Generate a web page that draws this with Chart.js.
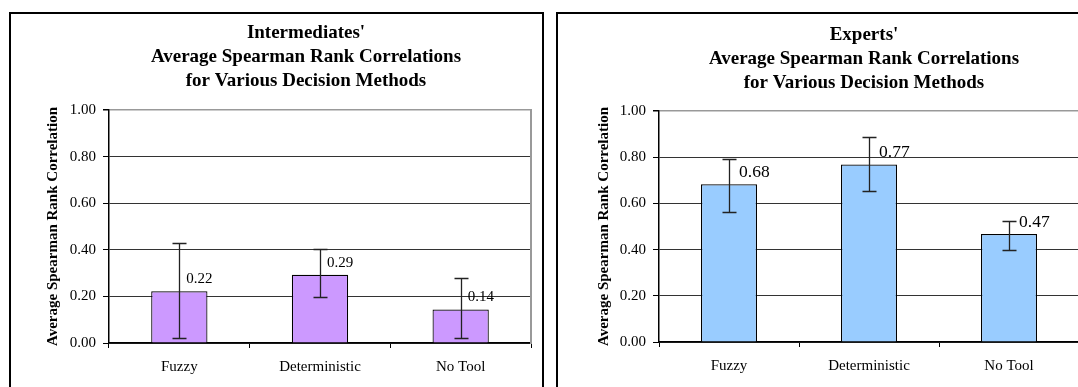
<!DOCTYPE html>
<html>
<head>
<meta charset="utf-8">
<script src="https://cdn.jsdelivr.net/npm/chart.js@4.4.1/dist/chart.umd.min.js"></script>
<style>
  html, body { margin: 0; padding: 0; background: #fff; width: 1078px; height: 387px; overflow: hidden; position: relative; }
  .frame { position: absolute; box-sizing: border-box; border: 2px solid #000; background: transparent; }
  canvas { position: absolute; }
</style>
</head>
<body>
<div class="frame" style="left:9px; top:12px; width:535px; height:420px;"></div>
<div class="frame" style="left:556px; top:12px; width:600px; height:420px;"></div>
<canvas id="c1" width="590" height="373" style="left:11px; top:14px; width:590px; height:373px;"></canvas>
<canvas id="c2" width="612" height="373" style="left:558px; top:14px; width:612px; height:373px;"></canvas>
<script>
// ---- data ----
const categories = ['Fuzzy', 'Deterministic', 'No Tool'];
const intermediateMeans = [0.222, 0.293, 0.144];
const intermediateErrLow = [0.020, 0.199, 0.020];
const intermediateErrHigh = [0.430, 0.405, 0.280];
const expertMeans = [0.683, 0.768, 0.467];
const expertErrLow = [0.561, 0.654, 0.400];
const expertErrHigh = [0.794, 0.887, 0.524];
const yTickValues = [0, 0.2, 0.4, 0.6, 0.8, 1.0];
const intermediateTitle = ["Intermediates'", 'Average Spearman Rank Correlations', 'for Various Decision Methods'];
const expertTitle = ["Experts'", 'Average Spearman Rank Correlations', 'for Various Decision Methods'];
const yAxisTitle = 'Average Spearman Rank Correlation';

const SERIF = "'Liberation Serif', 'Times New Roman', serif";

const errorBarPlugin = {
  id: 'errorBars',
  afterDatasetsDraw(chart, args, opts) {
    const meta = chart.getDatasetMeta(0);
    const ys = chart.scales.y;
    const values = chart.data.datasets[0].data;
    const ctx = chart.ctx;
    ctx.save();
    ctx.strokeStyle = opts.color;
    ctx.lineWidth = opts.width;
    meta.data.forEach((bar, i) => {
      const x = Math.round(bar.x) + 0.5;
      const yl = Math.round(ys.getPixelForValue(opts.low[i])) + 0.5;
      const yh = Math.round(ys.getPixelForValue(opts.high[i])) + 0.5;
      ctx.beginPath();
      ctx.moveTo(x, yl); ctx.lineTo(x, yh);
      ctx.moveTo(x - opts.cap, yh); ctx.lineTo(x + opts.cap, yh);
      ctx.moveTo(x - opts.cap, yl); ctx.lineTo(x + opts.cap, yl);
      ctx.stroke();
    });
    ctx.fillStyle = '#000';
    ctx.font = opts.labelSize + 'px ' + SERIF;
    ctx.textAlign = 'left';
    ctx.textBaseline = 'middle';
    meta.data.forEach((bar, i) => {
      ctx.fillText(values[i].toFixed(2), bar.x + opts.dx, bar.y + opts.dy);
    });
    ctx.restore();
  }
};

function makeChart(id, title, means, low, high, color, geo) {
  return new Chart(document.getElementById(id), {
    type: 'bar',
    data: {
      labels: categories,
      datasets: [{
        data: means,
        backgroundColor: color,
        borderColor: '#000',
        borderWidth: 1.2,
        barPercentage: 1,
        categoryPercentage: 0.4
      }]
    },
    options: {
      responsive: false,
      animation: false,
      layout: { padding: 0 },
      plugins: {
        legend: { display: false },
        tooltip: { enabled: false },
        title: {
          display: true,
          text: title,
          color: '#000',
          font: { family: SERIF, size: 19, weight: 'bold', lineHeight: 24 / 19 },
          padding: { top: geo.titleTop, bottom: geo.titleBottom }
        },
        errorBars: {
          low: low, high: high, color: '#222', width: 1.3, cap: 7,
          labelSize: geo.labelSize, dx: geo.labelDx, dy: -12
        }
      },
      scales: {
        x: {
          type: 'category',
          offset: true,
          grid: { display: true, drawOnChartArea: false, offset: true, tickLength: 5, color: '#000', lineWidth: 1 },
          border: { display: true, color: '#000', width: 1.5 },
          ticks: { color: '#000', font: { family: SERIF, size: 15 }, padding: 10, maxRotation: 0 },
          afterFit(s) { s.height = geo.xHeight; }
        },
        y: {
          min: 0, max: 1,
          afterBuildTicks(s) { s.ticks = yTickValues.map(v => ({ value: v })); },
          grid: {
            color: c => (c.tick && c.tick.value >= 0.999) ? '#999' : '#333',
            lineWidth: c => (c.tick && c.tick.value >= 0.999) ? 1.5 : 1,
            tickLength: 6, tickColor: '#000'
          },
          border: { display: true, color: '#000', width: 1.5 },
          ticks: {
            color: '#000', font: { family: SERIF, size: 15 }, padding: 7,
            callback: v => Number(v).toFixed(2)
          },
          title: {
            display: true, text: yAxisTitle, color: '#000',
            font: { family: SERIF, size: 15, weight: 'bold', lineHeight: 1.2 },
            padding: { top: geo.yTitlePad, bottom: 0 }
          },
          afterFit(s) { s.width = geo.yWidth; }
        },
        y2: {
          position: 'right', min: 0, max: 1,
          grid: { display: false, drawOnChartArea: false },
          border: { display: true, color: '#999', width: 2 },
          ticks: { display: false },
          afterFit(s) { s.width = geo.rightWidth; }
        }
      }
    },
    plugins: [errorBarPlugin]
  });
}

makeChart('c1', intermediateTitle, intermediateMeans, intermediateErrLow, intermediateErrHigh, '#CC99FF',
  { titleTop: 7, titleBottom: 17, xHeight: 44, yWidth: 98, rightWidth: 70, yTitlePad: 33, labelSize: 15, labelDx: 7 });
makeChart('c2', expertTitle, expertMeans, expertErrLow, expertErrHigh, '#99CCFF',
  { titleTop: 9, titleBottom: 16, xHeight: 45, yWidth: 101, rightWidth: 91, yTitlePad: 37, labelSize: 17.5, labelDx: 10 });
</script>
</body>
</html>
